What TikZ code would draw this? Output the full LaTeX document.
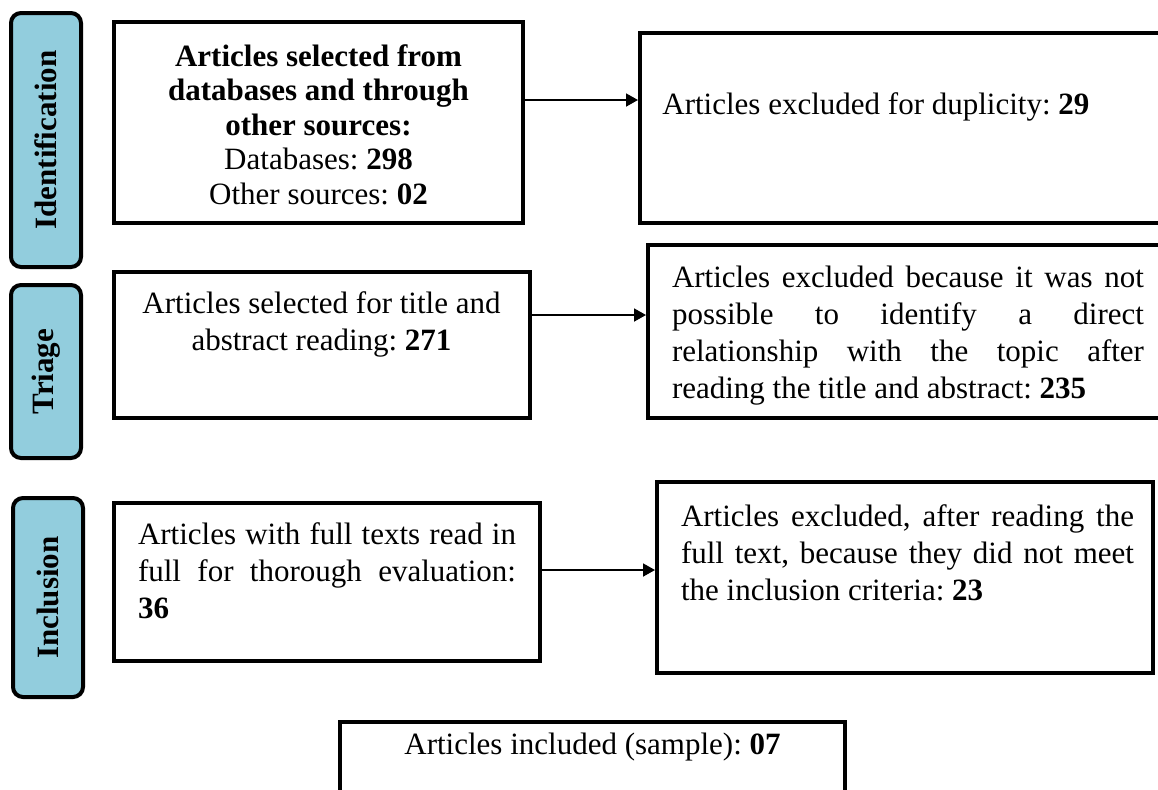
\documentclass[tikz,border=0pt]{standalone}
\usepackage{fontspec}
\setmainfont{Liberation Serif}
\usetikzlibrary{arrows.meta}
\frenchspacing

\definecolor{stageblue}{RGB}{146,205,221}

\tikzset{
  box/.style={draw, line width=2pt, inner sep=0pt},
  txt/.style={inner sep=0pt, font=\fontsize{15.5}{18.5}\selectfont,
    execute at begin node={\hyphenpenalty=10000\relax\tolerance=10000\relax}},
  stage/.style={draw, line width=2pt, rounded corners=5pt, fill=stageblue, rotate=90,
    inner sep=0pt, minimum height=35pt, font=\fontsize{15.5}{18.5}\selectfont\bfseries},
  arr/.style={-{Triangle[length=6pt,width=6.5pt]}, line width=0.9pt}
}

\begin{document}
\begin{tikzpicture}[x=0.5pt, y=-0.5pt]
      \useasboundingbox (0,0) rectangle (1158,789);
      \clip (0,0) rectangle (1158,789);

      % Stages
      \node[stage, minimum width=127pt] (ident) at (46,140) {Identification};
      \node[stage, minimum width=86.5pt] (triage) at (46,371.5) {Triage};
      \node[stage, minimum width=99.5pt] (incl) at (48,597.5) {Inclusion};

      % Boxes
      \node[box, minimum width=204.5pt, minimum height=100.5pt] (selbox) at (318.5,122.5) {};
      \node[box, minimum width=270pt, minimum height=95pt] (dupbox) at (910,128) {};
      \node[box, minimum width=208pt, minimum height=73pt] (readbox) at (322,345) {};
      \node[box, minimum width=266pt, minimum height=86.5pt] (excbox) at (914,331.5) {};
      \node[box, minimum width=213pt, minimum height=79pt] (fullbox) at (327,582) {};
      \node[box, minimum width=248pt, minimum height=95.5pt] (critbox) at (905,577.5) {};
      \node[box, minimum width=252.5pt, minimum height=54pt] (sampbox) at (592.5,776) {};

      % Texts
      \node[txt, anchor=north, align=center, font=\fontsize{15.5}{17.25}\selectfont] (seltxt) at (318.5,44)
        {\textbf{Articles selected from}\\ \textbf{databases and through}\\ \textbf{other sources:}\\
         Databases: \textbf{298}\\ Other sources: \textbf{02}};
      \node[txt, anchor=west] (duptxt) at (662,107) {Articles excluded for duplicity: \textbf{29}};
      \node[txt, anchor=north, align=center] (readtxt) at (321.5,291)
        {Articles selected for title and\\ abstract reading: \textbf{271}};
      \node[txt, anchor=north, text width=236pt, align=justify] (exctxt) at (908,266)
        {Articles excluded because it was not\linebreak possible to identify a direct\linebreak
         relationship with the topic after\linebreak reading the title and abstract: \textbf{235}};
      \node[txt, anchor=north, text width=189pt, align=justify] (fulltxt) at (327,522)
        {Articles with full texts read in\linebreak full for thorough evaluation:\linebreak \textbf{36}};
      \node[txt, anchor=north, text width=226.5pt, align=justify] (crittxt) at (907.5,504)
        {Articles excluded, after reading the\linebreak full text, because they did not meet\linebreak
         the inclusion criteria: \textbf{23}};
      \node[txt] (samptxt) at (592.5,747) {Articles included (sample): \textbf{07}};

      % Edges
      \coordinate (selout) at ([yshift=11.25pt]selbox.east);
      \coordinate (readout) at ([yshift=15pt]readbox.east);
      \coordinate (fullout) at ([yshift=6pt]fullbox.east);
      \draw[arr] (selout) -- (selout -| dupbox.west);
      \draw[arr] (readout) -- (readout -| excbox.west);
      \draw[arr] (fullout) -- (fullout -| critbox.west);

    \end{tikzpicture}
\end{document}
